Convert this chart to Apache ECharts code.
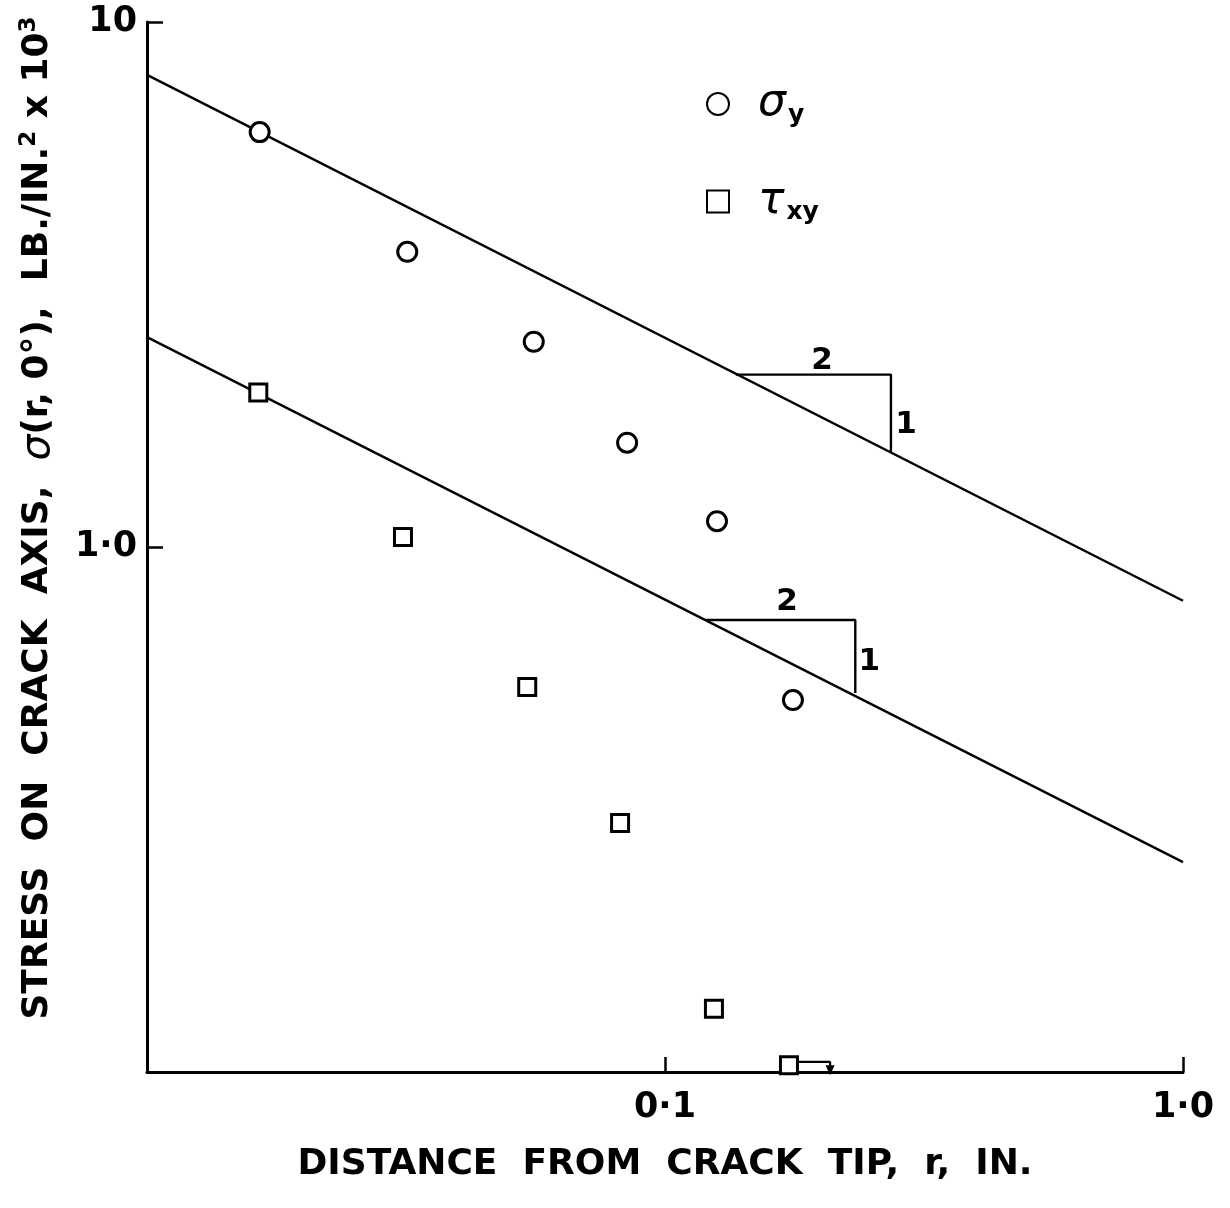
<!DOCTYPE html>
<html>
<head>
<meta charset="utf-8">
<script src="https://cdn.jsdelivr.net/npm/echarts@6/dist/echarts.min.js"></script>
<style>html,body{margin:0;padding:0;background:#fff}#c{width:1230px;height:1208px}</style>
</head>
<body>
<div id="c"></div>
<script>
// Data (r in inches, stress in lb/in^2 x 10^3)
const sigmaY = [[0.0165, 6.17], [0.0318, 3.65], [0.0558, 2.46], [0.0845, 1.58], [0.126, 1.12], [0.1766, 0.511]];
const tauXY = [[0.0164, 1.97], [0.0312, 1.045], [0.0542, 0.541], [0.0819, 0.298], [0.1243, 0.132], [0.1735, 0.103]];
const upperLine = [[0.01, 7.93], [1.0, 0.79]];
const lowerLine = [[0.01, 2.51], [1.0, 0.251]];
const upperTriangle = [[0.137, 2.13], [0.273, 2.13], [0.273, 1.51]];
const lowerTriangle = [[0.120, 0.726], [0.233, 0.726], [0.233, 0.527]];
const slopeLabels = [[0.201, 2.26, '2'], [0.292, 1.71, '1'], [0.172, 0.785, '2'], [0.248, 0.605, '1']];
const arrowPath = [[0.1785, 0.1045], [0.2083, 0.1045], [0.2083, 0.1008]];
const xTickLabels = {'0.1': '0·1', '1': '1·0'};
const yTickLabels = {'1': '1·0', '10': '10'};

const FONT = 'DejaVu Sans';
const chart = echarts.init(document.getElementById('c'), null, {renderer: 'canvas'});
const blackLine = {color: '#000', width: 2.4};
chart.setOption({
  backgroundColor: '#fff',
  animation: false,
  grid: {left: 147, top: 22, right: 47, bottom: 136},
  xAxis: {
    type: 'log', logBase: 10, min: 0.01, max: 1,
    name: 'DISTANCE  FROM  CRACK  TIP,  r,  IN.', nameLocation: 'middle', nameGap: 75,
    nameTextStyle: {fontFamily: FONT, fontSize: 36, fontWeight: 'bold', color: '#000'},
    axisLine: {show: true, onZero: false, lineStyle: {color: '#000', width: 3}},
    axisTick: {show: true, inside: true, length: 15, lineStyle: {color: '#000', width: 2.5}},
    splitLine: {show: false}, minorTick: {show: false},
    axisLabel: {margin: 18, fontFamily: FONT, fontSize: 35, fontWeight: 'bold', color: '#000',
      formatter: v => xTickLabels[String(+v.toPrecision(3))] || ''}
  },
  yAxis: {
    type: 'log', logBase: 10, min: 0.1, max: 10,
    axisLine: {show: true, onZero: false, lineStyle: {color: '#000', width: 3}},
    axisTick: {show: true, inside: true, length: 16, lineStyle: {color: '#000', width: 2.5}},
    splitLine: {show: false},
    axisLabel: {margin: 10, fontFamily: FONT, fontSize: 35, fontWeight: 'bold', color: '#000',
      formatter: v => yTickLabels[String(+v.toPrecision(3))] || ''}
  },
  legend: {
    orient: 'vertical', left: 701, top: 77, itemGap: 52, itemWidth: 22, itemHeight: 22,
    data: ['sy', 'txy'],
    formatter: n => n === 'sy' ? '{g|σ}{s|y}' : '{g|τ}{s|xy}',
    textStyle: {padding: [0, 0, 0, 24], rich: {
      g: {fontFamily: FONT, fontSize: 44, fontStyle: 'italic', color: '#000'},
      s: {fontFamily: FONT, fontSize: 25, fontWeight: 'bold', color: '#000', padding: [22, 0, 0, 2]}
    }}
  },
  graphic: [{
    type: 'text', x: 38, y: 518, rotation: Math.PI / 2,
    style: {
      text: 'STRESS  ON  CRACK  AXIS,  {g|σ}(r, 0°),  LB./IN.{sup|2} x 10{sup|3}',
      fontFamily: FONT, fontSize: 36, fontWeight: 'bold', fill: '#000', align: 'center', verticalAlign: 'middle',
      rich: {
        g: {fontFamily: FONT, fontSize: 41, fontStyle: 'italic', fill: '#000'},
        sup: {fontFamily: FONT, fontSize: 23, fontWeight: 'bold', fill: '#000', padding: [0, 0, 18, 0]}
      }
    }
  }],
  series: [
    {name: 'sy', type: 'scatter', data: sigmaY, symbol: 'circle', symbolSize: 19,
     itemStyle: {color: '#fff', borderColor: '#000', borderWidth: 3, opacity: 1}, z: 5},
    {name: 'txy', type: 'scatter', data: tauXY, symbol: 'rect', symbolSize: 17,
     itemStyle: {color: '#fff', borderColor: '#000', borderWidth: 3, opacity: 1}, z: 5},
    {type: 'line', data: upperLine, showSymbol: false, lineStyle: blackLine, silent: true},
    {type: 'line', data: lowerLine, showSymbol: false, lineStyle: blackLine, silent: true},
    {type: 'line', data: upperTriangle, showSymbol: false, lineStyle: blackLine, silent: true},
    {type: 'line', data: lowerTriangle, showSymbol: false, lineStyle: blackLine, silent: true},
    {type: 'line', silent: true, lineStyle: {color: '#000', width: 2.2},
     data: arrowPath.map((p, i) => i === arrowPath.length - 1
        ? {value: p, symbol: 'triangle', symbolRotate: 180, symbolSize: [9, 10], itemStyle: {color: '#000'}}
        : {value: p, symbol: 'none'}),
     showSymbol: true},
    {type: 'scatter', silent: true, symbolSize: 1, itemStyle: {opacity: 0}, data: slopeLabels,
     label: {show: true, position: 'inside', formatter: p => p.value[2], opacity: 1,
       fontFamily: FONT, fontSize: 31, fontWeight: 'bold', color: '#000'}}
  ]
});
</script>
</body>
</html>
